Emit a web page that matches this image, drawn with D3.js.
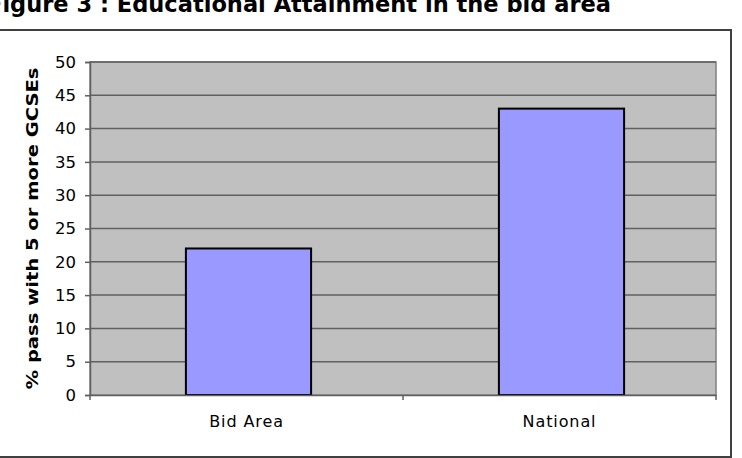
<!DOCTYPE html>
<html>
<head>
<meta charset="utf-8">
<script src="https://cdn.jsdelivr.net/npm/d3@7"></script>
<style>
  body { margin: 0; background: white; }
  svg { display: block; }
</style>
</head>
<body>
<div id="chart"></div>
<script>
// educational attainment bar chart

// data
const categories = ["Bid Area", "National"];
const values = [22, 43];
const yTicks = [0, 5, 10, 15, 20, 25, 30, 35, 40, 45, 50];

const w = 742, h = 458;
const plot = { left: 90, right: 716, top: 62, bottom: 395 };
const fontFamily = "'DejaVu Sans', Verdana, sans-serif";

const svg = d3.select("#chart")
  .append("svg")
  .attr("width", w)
  .attr("height", h);

// scales
const x = d3.scaleBand()
  .domain(categories)
  .range([plot.left + 2, plot.right + 2])
  .paddingInner(0.6)
  .paddingOuter(0.3);

const xCat = d3.scaleBand()
  .domain(categories)
  .range([plot.left, plot.right]);

const y = d3.scaleLinear()
  .domain([0, 50])
  .range([plot.bottom, plot.top]);

// title (cropped at top-left of the picture, as in the source)
svg.append("text")
  .attr("x", 611)
  .attr("y", 12)
  .attr("text-anchor", "end")
  .attr("textLength", 624)
  .attr("lengthAdjust", "spacingAndGlyphs")
  .style("font-family", fontFamily)
  .style("font-size", "22.5px")
  .style("font-weight", "bold")
  .text("Figure 3 : Educational Attainment in the bid area");

// outer chart frame
svg.append("rect")
  .attr("x", -10)
  .attr("y", 30)
  .attr("width", 741)
  .attr("height", 427)
  .attr("fill", "white")
  .attr("stroke", "#404040")
  .attr("stroke-width", 2);

// plot background
svg.append("rect")
  .attr("x", plot.left)
  .attr("y", plot.top)
  .attr("width", plot.right - plot.left)
  .attr("height", plot.bottom - plot.top)
  .attr("fill", "#c0c0c0")
  .attr("stroke", "#808080")
  .attr("stroke-width", 1.5);

// gridlines
svg.append("g")
  .selectAll("line")
  .data(yTicks.filter(d => d > 0))
  .join("line")
    .attr("x1", plot.left)
    .attr("x2", plot.right)
    .attr("y1", d => y(d))
    .attr("y2", d => y(d))
    .attr("stroke", "#606060")
    .attr("stroke-width", 1.5);

// bars
svg.append("g")
  .selectAll("rect")
  .data(categories.map((c, i) => [c, values[i]]))
  .join("rect")
    .attr("x", d => x(d[0]))
    .attr("y", d => y(d[1]))
    .attr("width", x.bandwidth())
    .attr("height", d => y(0) - y(d[1]))
    .attr("fill", "#9999ff")
    .attr("stroke", "black")
    .attr("stroke-width", 2);

// y axis
svg.append("g")
  .attr("transform", `translate(${plot.left},0)`)
  .call(d3.axisLeft(y).tickValues(yTicks).tickSize(5).tickPadding(9))
  .call(g => g.select(".domain").attr("stroke", "#606060").attr("stroke-width", 1.5))
  .call(g => g.selectAll(".tick line").attr("stroke", "#606060").attr("stroke-width", 1.5))
  .call(g => g.selectAll(".tick text")
    .style("font-family", fontFamily)
    .style("font-size", "16.5px")
    .attr("fill", "black"));

// x axis
const xAxis = svg.append("g")
  .attr("transform", `translate(0,${plot.bottom})`)
  .call(d3.axisBottom(xCat).tickSize(0).tickPadding(21))
  .call(g => g.select(".domain").attr("stroke", "#606060").attr("stroke-width", 1.5))
  .call(g => g.selectAll(".tick text")
    .style("font-family", fontFamily)
    .style("font-size", "16px")
    .style("letter-spacing", "0.9px")
    .attr("fill", "black"));

// category boundary ticks
xAxis.append("g")
  .selectAll("line")
  .data(xCat.domain().map(d => xCat(d)).concat([plot.right]))
  .join("line")
    .attr("x1", d => d)
    .attr("x2", d => d)
    .attr("y1", 0)
    .attr("y2", 5)
    .attr("stroke", "#606060")
    .attr("stroke-width", 1.5);

// y axis title
svg.append("text")
  .attr("transform", `translate(38,${(plot.top + plot.bottom) / 2}) rotate(-90)`)
  .attr("text-anchor", "middle")
  .attr("textLength", 322)
  .attr("lengthAdjust", "spacingAndGlyphs")
  .style("font-family", fontFamily)
  .style("font-size", "16px")
  .style("font-weight", "bold")
  .text("% pass with 5 or more GCSEs");
</script>
</body>
</html>
